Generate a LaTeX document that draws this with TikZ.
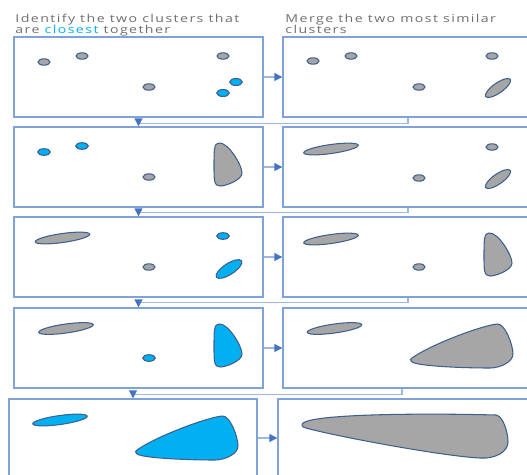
\documentclass[tikz,border=0pt]{standalone}
\usepackage{fontspec}
\newfontfamily\tfont[LetterSpace=10]{Open Sans}
\usetikzlibrary{fit,arrows.meta}
\definecolor{boxc}{HTML}{7FA2DC}
\definecolor{arrc}{HTML}{4472C4}
\definecolor{linec}{HTML}{9DB8E4}
\definecolor{edgec}{HTML}{3F5F8F}
\definecolor{grayf}{HTML}{A6A6A6}
\definecolor{cyanf}{HTML}{00B0F0}
\definecolor{textc}{HTML}{6E6E6E}
\begin{document}
\begin{tikzpicture}[x=0.02cm,y=-0.02cm,
 panel/.style={draw=boxc,line width=0.8pt,inner sep=0pt},
 conn/.style={draw=linec,line width=0.7pt,-{Triangle[length=4.5pt,width=4.5pt,color=arrc]}},
 gclu/.style={fill=grayf,draw=edgec,line width=0.6pt},
 cclu/.style={fill=cyanf,draw=edgec,line width=0.6pt},
 title/.style={inner sep=0pt,anchor=base west,text=textc,font=\tfont\fontsize{6.2}{7}\selectfont,xscale=1.3},
 drop/.pic={\path[pic actions] (5,0) .. controls (14,-1) and (28,22) .. (28,30) .. controls (28,37) and (12,43) .. (6,43) .. controls (0,43) and (0,37) .. (0,23) .. controls (0,7) and (0,0) .. (5,0) -- cycle;},
 wedge/.pic={\path[pic actions] (0,0) .. controls (18,-13) and (68,-32) .. (85,-34) .. controls (93,-35) and (101,-13) .. (101,-4) .. controls (101,4) and (88,10) .. (78,10) .. controls (48,10) and (6,8) .. (0,4) .. controls (-2,2) and (-2,1) .. (0,0) -- cycle;}]
\useasboundingbox (0,0) rectangle (527,474);
\clip (0,0) rectangle (527,474);

% titles
\node[title] (t1) at (15,22) {Identify the two clusters that};
\node[title] (t2) at (15,33) {are \textcolor{cyanf}{closest} together};
\node[title] (t3) at (285,22) {Merge the two most similar};
\node[title] (t4) at (285,33) {clusters};

% panels
\node[panel, fit={(14,37)(263,117)}] (L1) {};
\node[panel, fit={(283,37)(533,117)}] (R1) {};
\node[panel, fit={(14,127)(263,207)}] (L2) {};
\node[panel, fit={(283,127)(533,207)}] (R2) {};
\node[panel, fit={(14,217)(263,297)}] (L3) {};
\node[panel, fit={(283,217)(533,297)}] (R3) {};
\node[panel, fit={(14,308)(263,388)}] (L4) {};
\node[panel, fit={(283,308)(533,388)}] (R4) {};
\node[panel, fit={(9,399)(257,477)}] (L5) {};
\node[panel, fit={(278,399)(540,477)}] (R5) {};

% connectors
\draw[conn] (L1.east) -- (R1.west);
\draw[conn] (L2.east) -- (R2.west);
\draw[conn] (L3.east) -- (R3.west);
\draw[conn] (L4.east) -- (R4.west);
\draw[conn] (L5.east) -- (R5.west);
\draw[conn] (R1.south) -- ++(0,6) -| (L2.north);
\draw[conn] (R2.south) -- ++(0,5) -| (L3.north);
\draw[conn] (R3.south) -- ++(0,5) -| (L4.north);
\draw[conn] ([xshift=-0.12cm]R4.south) -- ++(0,6) -| (L5.north);

% row 1 left
\draw[gclu] (44,62) ellipse [x radius=6, y radius=3.2];
\draw[gclu] (82,56) ellipse [x radius=6, y radius=3.2];
\draw[gclu] (223,56) ellipse [x radius=6, y radius=3.2];
\draw[gclu] (149,87) ellipse [x radius=6, y radius=3.2];
\draw[cclu] (236,82) ellipse [x radius=6.3, y radius=3.5];
\draw[cclu] (223,93) ellipse [x radius=6.3, y radius=3.5];
% row 1 right
\draw[gclu] (313,61) ellipse [x radius=6, y radius=3.2];
\draw[gclu] (351,56) ellipse [x radius=6, y radius=3.2];
\draw[gclu] (492,56) ellipse [x radius=6, y radius=3.2];
\draw[gclu] (419,87) ellipse [x radius=6, y radius=3.2];
\draw[gclu] (498,88) ellipse [x radius=15, y radius=5, rotate=35];

% row 2 left
\draw[cclu] (44,152) ellipse [x radius=6.3, y radius=3.3];
\draw[cclu] (82,146) ellipse [x radius=6.3, y radius=3.3];
\draw[gclu] (149,177) ellipse [x radius=6, y radius=3.2];
\pic[gclu] at (214,143) {drop};
% row 2 right
\draw[gclu] (331,149) ellipse [x radius=27.5, y radius=4.5, rotate=8];
\draw[gclu] (492,147) ellipse [x radius=6, y radius=3.2];
\draw[gclu] (419,178) ellipse [x radius=6, y radius=3.2];
\draw[gclu] (498,179) ellipse [x radius=15, y radius=5, rotate=35];

% row 3 left
\draw[gclu] (62.5,238) ellipse [x radius=27.5, y radius=4.5, rotate=8];
\draw[cclu] (223,236) ellipse [x radius=6.3, y radius=3.3];
\draw[gclu] (149,267) ellipse [x radius=6, y radius=3.2];
\draw[cclu] (229,269) ellipse [x radius=15, y radius=5.5, rotate=33];
% row 3 right
\draw[gclu] (331,239) ellipse [x radius=27.5, y radius=4.5, rotate=8];
\draw[gclu] (419,267) ellipse [x radius=6, y radius=3.2];
\pic[gclu] at (484,233) {drop};

% row 4 left
\draw[gclu] (66,328.5) ellipse [x radius=27.5, y radius=4.5, rotate=8];
\draw[cclu] (149,358) ellipse [x radius=6.3, y radius=3.3];
\pic[cclu] at (214,324) {drop};
% row 4 right
\draw[gclu] (334.5,328.5) ellipse [x radius=27.5, y radius=4.5, rotate=8];
\pic[gclu] at (412,358) {wedge};

% row 5 left
\draw[cclu] (60,420) ellipse [x radius=27.5, y radius=4.5, rotate=8];
\pic[cclu] at (137,450) {wedge};
% row 5 right
\draw[gclu] (303,423) .. controls (315,414) and (420,413) .. (496,415) .. controls (503,416) and (508,432) .. (508,442) .. controls (508,452) and (495,459) .. (480,458) .. controls (440,456) and (330,435) .. (306,428) .. controls (302,427) and (301,425) .. (303,423) -- cycle;
\end{tikzpicture}
\end{document}
